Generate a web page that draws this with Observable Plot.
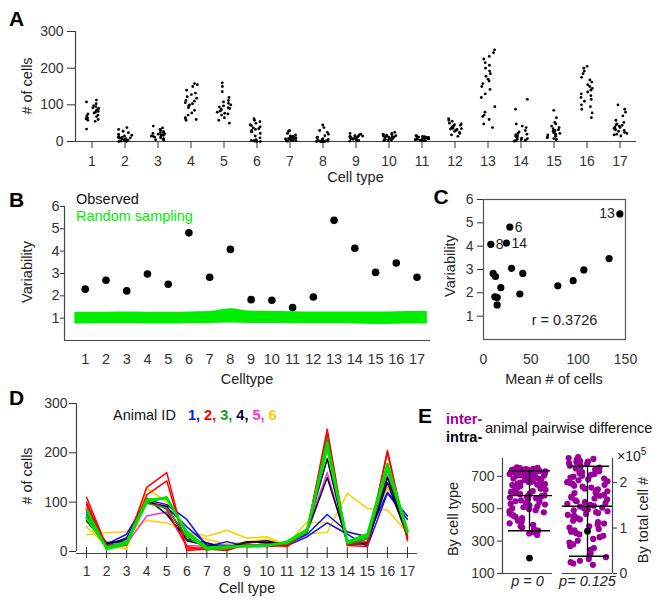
<!DOCTYPE html>
<html><head><meta charset="utf-8">
<script src="https://cdn.jsdelivr.net/npm/d3@7"></script>
<script src="https://cdn.jsdelivr.net/npm/@observablehq/plot@0.6"></script>
<style>
body{margin:0;background:#fff;}
#fig{position:relative;width:662px;height:604px;overflow:hidden;background:#fff;font-family:"Liberation Sans",Arial,sans-serif;color:#222;}
.t{position:absolute;white-space:nowrap;line-height:1;}
</style></head><body><div id="fig"></div>
<script>
// ---------------- DATA ----------------
const cellTypes = [1,2,3,4,5,6,7,8,9,10,11,12,13,14,15,16,17];

// Panel A: # of cells per sample, for each cell type
const countsA = [
  [113,108,103,98,95,92,90,88,85,82,80,78,75,72,70,68,65,62,60,58,55,34],
  [38,33,28,24,20,17,14,12,10,9,8,7,6,5,4,3,2,1,0,0,15,11],
  [42,37,33,30,27,24,22,20,19,18,17,15,14,13,12,10,8,6,5,4,25,21],
  [158,155,150,140,132,128,122,118,112,110,106,103,100,97,92,85,78,72,65,62,60,58],
  [160,150,136,120,112,108,104,100,97,94,92,90,88,85,83,80,77,75,72,65,58,50],
  [62,58,54,50,46,43,40,37,35,33,30,28,26,22,15,10,5,2,0,0,1,3],
  [30,28,22,18,15,13,12,11,10,9,8,8,7,6,5,4,3,2,2,1,12,14],
  [45,38,30,25,20,16,12,10,8,6,5,4,3,2,1,0,0,0,0,0,0,0],
  [22,20,18,16,15,14,13,12,11,10,10,9,8,7,6,5,4,3,2,1,12,14],
  [25,22,20,18,16,15,14,13,12,11,10,9,8,7,6,5,4,3,2,12,17,19],
  [16,14,13,12,11,10,10,9,8,8,7,6,5,5,4,3,3,2,12,15,11,9],
  [62,58,55,50,48,46,44,42,40,38,37,36,35,34,33,32,30,28,25,22,18,14],
  [250,242,232,225,215,208,200,192,185,178,170,165,158,150,142,130,120,95,80,72,68,60,48,38],
  [115,88,48,42,38,30,26,22,20,18,16,14,12,10,9,8,6,5,4,3,2,1],
  [85,65,52,48,42,38,35,32,30,28,26,24,22,20,18,16,14,12,10,8,6,5],
  [205,200,192,185,175,168,162,155,150,145,140,135,130,125,120,115,110,100,95,88,78,65],
  [100,88,80,70,58,52,48,46,44,42,40,38,36,34,32,30,28,25,22,20,18,15]
];

// Panel B / C
const variability = [2.30,2.70,2.22,2.98,2.52,4.82,2.83,4.08,1.83,1.80,1.48,1.95,5.38,4.13,3.05,3.47,2.83];
const randomLow  = [0.74,0.75,0.75,0.74,0.74,0.75,0.76,0.78,0.76,0.76,0.75,0.75,0.75,0.74,0.72,0.73,0.74];
const randomHigh = [1.26,1.27,1.28,1.27,1.27,1.28,1.30,1.42,1.31,1.30,1.29,1.28,1.28,1.28,1.28,1.29,1.30];
const meanCells  = [78.5,12.7,18.3,106,94.7,27.8,10.2,7.7,12,14.5,14.4,38.4,144,24.3,29.6,132.7,41.5];
const labeledTypes = [6,8,13,14];
const correlationR = [0.3726];

// Panel D: per-animal profiles (several samples per animal)
const animalIds = [1,2,3,4,5,6];
const animalColors = ["#1010ff","#ff0000","#229922","#000033","#ff33cc","#ffcc00"];
const animal1 = [
  [80,15,35,105,95,65,10,20,10,10,15,35,75,40,30,120,72],
  [85,12,28,100,90,50,15,12,12,15,12,30,58,35,10,118,65]
];
const animal2 = [
  [110,10,15,130,160,2,5,2,15,12,15,40,248,12,10,205,22],
  [100,8,12,115,143,5,8,5,15,10,12,45,238,15,20,200,25],
  [95,12,18,108,85,10,3,8,12,15,10,42,228,18,28,175,30]
];
const animal3 = [
  [75,10,18,98,88,30,6,6,12,14,15,40,230,15,25,165,35],
  [85,5,15,100,110,35,5,8,12,12,20,45,220,20,35,178,42],
  [68,8,20,105,108,40,8,10,10,12,18,42,210,18,30,170,40]
];
const animal4 = [
  [62,15,25,108,75,25,18,5,18,22,12,45,188,15,15,150,35],
  [70,18,20,100,92,22,12,8,20,18,15,40,150,20,18,140,30]
];
const animal5 = [
  [90,12,15,72,80,12,10,12,12,15,10,45,160,15,30,155,38]
];
const animal6 = [
  [34,38,40,63,58,40,31,43,27,30,12,36,39,118,87,84,38],
  [50,12,5,128,100,38,25,15,20,25,15,60,58,38,30,130,40]
];

// Panel E
const interCellType = [755,752,750,748,746,745,743,742,740,739,737,736,734,733,731,730,728,727,725,724,722,721,719,717,716,714,712,710,708,706,705,703,701,699,697,695,693,690,688,686,684,681,679,676,674,671,669,666,663,661,658,655,652,649,646,643,640,637,634,630,627,624,620,617,613,609,606,602,598,594,590,586,582,578,574,569,565,560,556,551,546,541,536,531,526,520,515,509,503,497,491,485,478,471,464,457,450,442,434,426,418,410,401,392,383,374,365,356,347,338];
const intraCellType = [195];
const cellTypeStats = [364,581,733];  // low, mean, high
const interTotal = [2.56,2.54,2.52,2.5,2.48,2.46,2.45,2.43,2.41,2.39,2.37,2.35,2.33,2.31,2.29,2.27,2.25,2.23,2.21,2.19,2.17,2.15,2.13,2.11,2.09,2.07,2.05,2.03,2.01,1.99,1.97,1.95,1.93,1.91,1.89,1.87,1.85,1.83,1.81,1.79,1.77,1.75,1.73,1.71,1.69,1.67,1.65,1.63,1.61,1.59,1.57,1.55,1.53,1.51,1.49,1.47,1.45,1.43,1.41,1.39,1.37,1.35,1.33,1.31,1.29,1.27,1.25,1.22,1.19,1.16,1.13,1.10,1.07,1.04,1.01,0.98,0.95,0.92,0.89,0.86,0.83,0.8,0.76,0.72,0.68,0.64,0.6,0.56,0.52,0.48,0.44,0.4,0.36,0.32,0.28,0.25,0.22,0.19]; // x10^5
const intraTotal = [0.93];
const totalStats = [0.38,1.48,2.36];
const pLabels = ["p = 0","p= 0.125"];

// ---------------- HELPERS ----------------
const fig = document.getElementById("fig");
const FONT = '"Liberation Sans", Arial, sans-serif';
const style = {fontFamily: FONT, fontSize: "14px", color: "#333", background: "transparent", overflow: "visible"};
const AX = "#444";
// deterministic horizontal jitter (position only), in [-0.5, 0.5)
const jitter = i => { const s = Math.sin(i * 127.1 + 311.7) * 43758.5453; return s - Math.floor(s) - 0.5; };
function addPlot(svg, left, top) {
  svg.style.position = "absolute"; svg.style.left = left + "px"; svg.style.top = top + "px";
  fig.appendChild(svg);
}
function txt(html, x, y, o = {}) {
  const d = document.createElement("div");
  d.className = "t";
  d.innerHTML = html;
  d.style.left = x + "px"; d.style.top = y + "px";
  d.style.fontSize = (o.size || 14.5) + "px";
  if (o.weight) d.style.fontWeight = o.weight;
  if (o.color) d.style.color = o.color;
  if (o.italic) d.style.fontStyle = "italic";
  const ax = o.anchor === "start" ? "0" : o.anchor === "end" ? "-100%" : "-50%";
  d.style.transform = o.rotate ? "translate(-50%,-50%) rotate(-90deg)" : `translate(${ax},-50%)`;
  d.style.transformOrigin = "50% 50%";
  fig.appendChild(d);
  return d;
}

// ---------------- PANEL A ----------------
const aData = cellTypes.flatMap((t, k) => countsA[k].map((v, i) => ({type: t, v, j: jitter(i + k * 31)})));
addPlot(Plot.plot({
  width: 662, height: 185, marginLeft: 75, marginRight: 26, marginTop: 31, marginBottom: 44,
  style,
  x: {domain: [0.5, 17.5]},
  y: {domain: [0, 300]},
  marks: [
    Plot.ruleY([0], {stroke: AX, strokeWidth: 1.2}),
    Plot.ruleX([0.5], {stroke: AX, strokeWidth: 1.2}),
    Plot.axisX(cellTypes, {tickSize: 7, tickPadding: 8, fontSize: 14, label: null}),
    Plot.axisY([0, 100, 200, 300], {tickSize: 8, tickPadding: 4, fontSize: 14, label: null}),
    Plot.dot(aData, {x: d => d.type + d.j * 0.42, y: "v", r: 1.4, fill: "#000"})
  ]
}), 0, 0);

// ---------------- PANEL B ----------------
const bandRows = [
  {x: cellTypes[0] - 0.5, lo: randomLow[0], hi: randomHigh[0]},
  ...cellTypes.map((t, i) => ({x: t, lo: randomLow[i], hi: randomHigh[i]})),
  {x: cellTypes[16] + 0.5, lo: randomLow[16], hi: randomHigh[16]}
];
const obsRows = cellTypes.map((t, i) => ({type: t, v: variability[i], m: meanCells[i]}));
addPlot(Plot.plot({
  width: 440, height: 185, marginLeft: 64, marginRight: 10, marginTop: 16, marginBottom: 35,
  style,
  x: {domain: [0, 17.65]},
  y: {domain: [0, 6]},
  marks: [
    Plot.areaY(bandRows, {x: "x", y1: "lo", y2: "hi", fill: "#00ee00", curve: "monotone-x"}),
    Plot.ruleY([0], {stroke: AX, strokeWidth: 1.2}),
    Plot.ruleX([0], {stroke: AX, strokeWidth: 1.2}),
    Plot.axisX(cellTypes, {tickSize: 0, tickPadding: 13, fontSize: 14.5, label: null}),
    Plot.axisY([1, 2, 3, 4, 5, 6], {tickSize: 4, tickPadding: 1, fontSize: 14.5, label: null}),
    Plot.dot(obsRows, {x: "type", y: "v", r: 3.8, fill: "#000"})
  ]
}), 0, 190);

// ---------------- PANEL C ----------------
addPlot(Plot.plot({
  width: 222, height: 190, marginLeft: 43, marginRight: 37, marginTop: 9, marginBottom: 41,
  style,
  x: {domain: [0, 150]},
  y: {domain: [0, 6]},
  marks: [
    Plot.frame({stroke: "#555", strokeWidth: 1.2}),
    Plot.axisX([0, 50, 100, 150], {tickSize: 0, tickPadding: 15, fontSize: 14, label: null}),
    Plot.axisY([1, 2, 3, 4, 5, 6], {tickSize: 6, tickPadding: 4, fontSize: 14, label: null}),
    Plot.dot(obsRows, {x: "m", y: "v", r: 3.6, fill: "#000"}),
    Plot.text(obsRows.filter(d => labeledTypes.includes(d.type) && d.type !== 13),
      {x: "m", y: "v", text: d => String(d.type), textAnchor: "start", dx: 5, fontSize: 14, fill: "#222"}),
    Plot.text(obsRows.filter(d => d.type === 13),
      {x: "m", y: "v", text: d => String(d.type), textAnchor: "end", dx: -5, fontSize: 14, fill: "#222"}),
    Plot.text(correlationR, {frameAnchor: "bottom", dx: 10, dy: -15, text: d => "r = " + d, fontSize: 14.5, fill: "#222"})
  ]
}), 440, 190);

// ---------------- PANEL D ----------------
const animals = [animal1, animal2, animal3, animal4, animal5, animal6];
const dRows = [];
const drawOrder = [5, 4, 0, 3, 1, 2];
drawOrder.forEach(a => animals[a].forEach((vals, s) => vals.forEach((v, i) =>
  dRows.push({animal: animalIds[a], series: `${a}-${s}`, bright: a === 2 && s > 0, type: cellTypes[i], v}))));
addPlot(Plot.plot({
  width: 440, height: 214, marginLeft: 76, marginRight: 23, marginTop: 13, marginBottom: 53,
  style,
  x: {domain: [0.5, 17.5]},
  y: {domain: [0, 300]},
  marks: [
    Plot.ruleY([0], {stroke: AX, strokeWidth: 1.2, dy: 2}),
    Plot.ruleX([0.5], {stroke: AX, strokeWidth: 1.2}),
    Plot.axisX(cellTypes, {tickSize: 11, dy: -4, tickPadding: 8, fontSize: 14, label: null}),
    Plot.axisY([0, 100, 200, 300], {tickSize: 7, tickPadding: 2, fontSize: 14, label: null}),
    Plot.line(dRows.filter(d => !d.bright), {x: "type", y: "v", z: "series",
      stroke: d => animalColors[animalIds.indexOf(d.animal)], strokeWidth: 1.5}),
    Plot.line(dRows.filter(d => d.bright), {x: "type", y: "v", z: "series",
      stroke: "#00e000", strokeWidth: 2.4})
  ]
}), 0, 390);

// ---------------- PANEL E ----------------
const PURPLE = "#990099";
const eLeft = interCellType.map((v, i) => ({v, j: jitter(i + 500)}));
addPlot(Plot.plot({
  width: 116, height: 150, marginLeft: 62, marginRight: 4, marginTop: 8, marginBottom: 27,
  style,
  x: {domain: [-1, 1], axis: null},
  y: {domain: [100, 810]},
  marks: [
    Plot.ruleY([100], {stroke: AX, strokeWidth: 1.2}),
    Plot.ruleX([-1], {stroke: AX, strokeWidth: 1.2}),
    Plot.axisY([100, 300, 500, 700], {tickSize: 5, tickPadding: 3, fontSize: 14, label: null}),
    Plot.dot(eLeft, {x: d => d.j * 1.45, y: "v", r: 3.1, fill: PURPLE}),
    Plot.ruleX([0], {y1: cellTypeStats[0], y2: cellTypeStats[2], stroke: "#000", strokeWidth: 1.3, dx: 2}),
    Plot.ruleY([cellTypeStats[0], cellTypeStats[2]], {stroke: "#000", strokeWidth: 1.3, insetLeft: 6, insetRight: 2}),
    Plot.ruleY([cellTypeStats[1]], {stroke: "#000", strokeWidth: 1.3, insetLeft: 6, insetRight: 0}),
    Plot.dot(intraCellType, {x: () => 0, y: d => d, r: 3.4, fill: "#000", dx: 2}),
    Plot.text([pLabels[0]], {frameAnchor: "bottom", dy: 12, text: d => d, fontStyle: "italic", fontSize: 14.5, fill: "#222"})
  ]
}), 440, 450);

const eRight = interTotal.map((v, i) => ({v, j: jitter(i + 900)}));
addPlot(Plot.plot({
  width: 106, height: 150, marginLeft: 6, marginRight: 50, marginTop: 8, marginBottom: 27,
  style,
  x: {domain: [-1, 1], axis: null},
  y: {domain: [0, 2.53]},
  marks: [
    Plot.ruleY([0], {stroke: AX, strokeWidth: 1.2}),
    Plot.ruleX([1], {stroke: AX, strokeWidth: 1.2}),
    Plot.axisY([0, 1, 2], {anchor: "right", tickSize: 4, tickPadding: 3, fontSize: 14, label: null}),
    Plot.dot(eRight, {x: d => d.j * 1.65, y: "v", r: 3.1, fill: PURPLE}),
    Plot.ruleX([0], {y1: totalStats[0], y2: totalStats[2], stroke: "#000", strokeWidth: 1.3}),
    Plot.ruleY([totalStats[0], totalStats[2]], {stroke: "#000", strokeWidth: 1.3, insetLeft: 7, insetRight: 3}),
    Plot.ruleY([totalStats[1]], {stroke: "#000", strokeWidth: 1.3}),
    Plot.dot(intraTotal, {x: () => 0, y: d => d, r: 3.4, fill: "#000"}),
    Plot.text([pLabels[1]], {frameAnchor: "bottom", dy: 12, text: d => d, fontStyle: "italic", fontSize: 14.5, fill: "#222"})
  ]
}), 556, 450);

// ---------------- TEXT ----------------
const L = {size: 21, weight: "bold", color: "#000"};
txt("A", 16.5, 17.5, L);
txt("B", 16.5, 198.5, L);
txt("C", 441, 196, L);
txt("D", 16.5, 397, L);
txt("E", 425, 415, L);

txt("# of cells", 27, 86, {rotate: true});
txt("Cell type", 355.5, 177);
txt("Variability", 27, 272, {rotate: true});
txt("Celltype", 247, 379);
txt("Observed", 76, 199, {anchor: "start", color: "#111"});
txt("Random sampling", 76, 216, {anchor: "start", color: "#00ee00"});
txt("Variability", 449.5, 266, {rotate: true});
txt("Mean # of cells", 554, 379);
txt("# of cells", 27, 476, {rotate: true});
txt("Cell type", 247, 588);

const legendHtml = "Animal ID&nbsp;&nbsp;&nbsp;" + animalIds.map((id, i) =>
  `<span style="color:${animalColors[i]};font-weight:bold">${id}${i < animalIds.length - 1 ? "," : ""}</span>`).join(" ");
txt(legendHtml, 113, 415, {anchor: "start", color: "#111"});

txt("inter-", 446, 419, {anchor: "start", weight: "bold", color: PURPLE});
txt("intra-", 446, 437, {anchor: "start", weight: "bold", color: "#000"});
txt("animal pairwise difference", 485, 428, {anchor: "start", color: "#111"});
txt("By cell type", 453, 519, {rotate: true});
txt("By total cell #", 643, 520, {rotate: true});
txt("&times;10<sup style='font-size:10px'>5</sup>", 617, 455, {anchor: "start", size: 14});
</script></body></html>
